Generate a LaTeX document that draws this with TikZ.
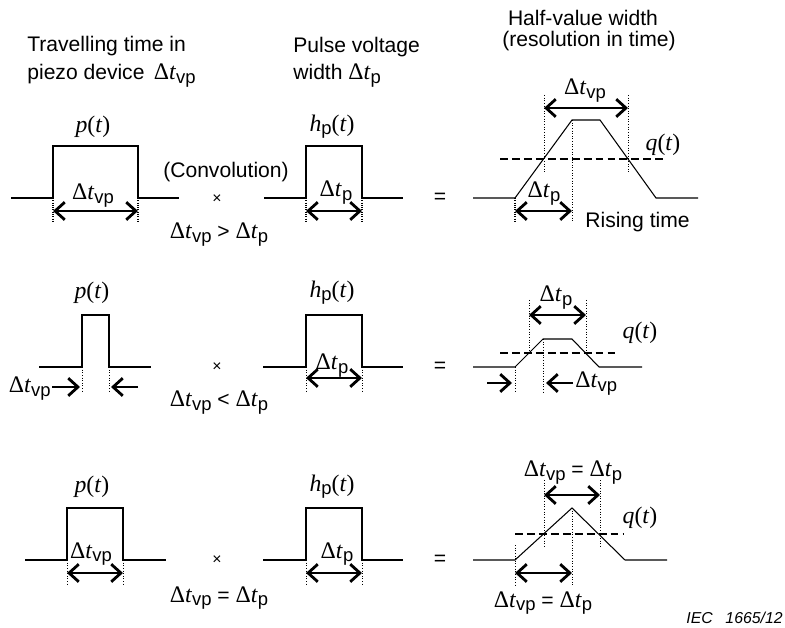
\documentclass[tikz,border=0pt]{standalone}
\usepackage{fontspec}
\setmainfont{Liberation Sans}
\newfontfamily\serf{Liberation Serif}
\usetikzlibrary{arrows.meta}

% text sizes
\newcommand\sz{\fontsize{12}{14}\selectfont}
\newcommand\sub[1]{\raisebox{-0.3ex}{\fontsize{10.5}{12}\selectfont #1}}
\newcommand\dt[1]{{\serf\fontsize{13.5}{16}\selectfont Δ\textit{t}}\sub{#1}}
\newcommand\fn[2]{{\serf\fontsize{13.5}{16}\selectfont\textit{#1}}#2{\serf\fontsize{13.5}{16}\selectfont(\textit{t})}}

\begin{document}
\begin{tikzpicture}[x=0.02cm, y=-0.02cm,
    wave/.style={line width=0.6pt},
    guide/.style={line width=0.5pt, dash pattern=on 0.5pt off 1pt},
    guidebold/.style={line width=1.2pt, dash pattern=on 0.6pt off 0.7pt},
    dimarrow/.style={line width=1.4pt, {Straight Barb[length=5.5pt,width=10pt,line width=1.6pt]}-{Straight Barb[length=5.5pt,width=10pt,line width=1.6pt]}},
    dimto/.style={line width=1.4pt, -{Straight Barb[length=5.5pt,width=10pt,line width=1.6pt]}},
    halfline/.style={line width=1.2pt, dash pattern=on 4.5pt off 2.3pt},
    txt/.style={font=\sz, inner sep=0pt}]

    % Fix the page size
    \useasboundingbox (0,0) rectangle (785,628);

    % 1. Headings
    \node[txt, anchor=base west] (headA1) at (27,52) {Travelling time in};
    \node[txt, anchor=base west] (headA2) at (27,80) {piezo device\, \dt{vp}};
    \node[txt, anchor=base west] (headB1) at (293,53) {Pulse voltage};
    \node[txt, anchor=base west] (headB2) at (293,80) {width \dt{p}};
    \node[txt, anchor=base] (headC1) at (583,26) {Half-value width};
    \node[txt, anchor=base] (headC2) at (589,47) {(resolution in time)};

    % 2. Row 1: dt_vp > dt_p
    \coordinate (A1) at (53,211);   % arrow ends
    \coordinate (B1) at (138,211);
    \coordinate (C1) at (306,211);
    \coordinate (D1) at (362,211);
    \coordinate (E1) at (544,108);
    \coordinate (F1) at (628,108);
    \coordinate (G1) at (515,211);
    \coordinate (H1) at (572,211);

    \draw[wave] (11,198) -- (53,198) -- (53,146) -- (138,146) -- (138,198) -- (179,198);
    \draw[guidebold] (53,198) -- (53,223);
    \draw[guidebold] (138,198) -- (138,223);
    \draw[dimarrow] (A1) -- (B1);
    \node[txt] (p1) at (93,127) {\fn{p}{}};
    \node[txt, anchor=base] (w1a) at (93,200) {\dt{vp}};

    \node[txt] (conv) at (226,172) {(Convolution)};
    \node[txt, font=\fontsize{9}{10}\selectfont] (x1) at (217,199) {×};
    \node[txt, anchor=base] (cmp1) at (219,239) {\dt{vp} > \dt{p}};

    \draw[wave] (264,198) -- (306,198) -- (306,146) -- (362,146) -- (362,198) -- (403,198);
    \draw[guidebold] (306,198) -- (306,223);
    \draw[guidebold] (362,198) -- (362,223);
    \draw[dimarrow] (C1) -- (D1);
    \node[txt] (h1) at (332,127) {\fn{h}{\sub{p}}};
    \node[txt, anchor=base] (w1b) at (336,197) {\dt{p}};

    \node[txt] (eq1) at (440,198) {=};

    \draw[wave] (473,198) -- (515,198) -- (572,120) -- (600,120) -- (656,198) -- (698,198);
    \draw[halfline] (500,159) -- (667,159);
    \draw[guide] (544,95) -- (544,173);
    \draw[guide] (628,95) -- (628,173);
    \draw[guide] (572,120) -- (572,222);
    \draw[guidebold] (515,198) -- (515,222);
    \draw[dimarrow] (E1) -- (F1);
    \draw[dimarrow] (G1) -- (H1);
    \node[txt, anchor=base] (w1c) at (585,95) {\dt{vp}};
    \node[txt, anchor=base] (w1d) at (544,198) {\dt{p}};
    \node[txt] (q1) at (663,145) {\fn{q}{}};
    \node[txt, anchor=base west] (rise) at (585,228) {Rising time};

    % 3. Row 2: dt_vp < dt_p
    \coordinate (A2) at (52,387);
    \coordinate (B2) at (80,387);
    \coordinate (C2) at (138,387);
    \coordinate (D2) at (111,387);
    \coordinate (E2) at (306,378);
    \coordinate (F2) at (362,378);
    \coordinate (G2) at (529,315);
    \coordinate (H2) at (586,315);
    \coordinate (I2) at (487,383);
    \coordinate (J2) at (512,383);
    \coordinate (K2) at (573,383);
    \coordinate (L2) at (546,383);

    \draw[wave] (39,367) -- (82,367) -- (82,315) -- (109,315) -- (109,367) -- (151,367);
    \draw[guide] (82,367) -- (82,392);
    \draw[guide] (109,367) -- (109,392);
    \draw[dimto] (A2) -- (B2);
    \draw[dimto] (C2) -- (D2);
    \node[txt] (p2) at (92,293) {\fn{p}{}};
    \node[txt, anchor=base east] (w2a) at (51,393) {\dt{vp}};

    \node[txt, font=\fontsize{9}{10}\selectfont] (x2) at (217,367) {×};
    \node[txt, anchor=base] (cmp2) at (219,407) {\dt{vp} < \dt{p}};

    \draw[wave] (263,367) -- (306,367) -- (306,315) -- (362,315) -- (362,367) -- (403,367);
    \draw[guide] (306,367) -- (306,392);
    \draw[guide] (362,367) -- (362,392);
    \draw[dimarrow] (E2) -- (F2);
    \node[txt] (h2) at (332,293) {\fn{h}{\sub{p}}};
    \node[txt, anchor=base] (w2b) at (332,370) {\dt{p}};

    \node[txt] (eq2) at (440,367) {=};

    \draw[wave] (473,367) -- (515,367) -- (543,339) -- (572,339) -- (599,367) -- (642,367);
    \draw[halfline] (500,353) -- (615,353);
    \draw[guide] (529,300) -- (529,353);
    \draw[guide] (586,300) -- (586,353);
    \draw[guide] (515,367) -- (515,392);
    \draw[guide] (543,339) -- (543,392);
    \draw[dimarrow] (G2) -- (H2);
    \draw[dimto] (I2) -- (J2);
    \draw[dimto] (K2) -- (L2);
    \node[txt, anchor=base] (w2c) at (556,302) {\dt{p}};
    \node[txt, anchor=base west] (w2d) at (575,388) {\dt{vp}};
    \node[txt] (q2) at (640,333) {\fn{q}{}};

    % 4. Row 3: dt_vp = dt_p
    \coordinate (A3) at (67,573);
    \coordinate (B3) at (123,573);
    \coordinate (C3) at (306,573);
    \coordinate (D3) at (362,573);
    \coordinate (E3) at (544,495);
    \coordinate (F3) at (600,495);
    \coordinate (G3) at (515,573);
    \coordinate (H3) at (572,573);

    \draw[wave] (25,560) -- (67,560) -- (67,508) -- (123,508) -- (123,560) -- (166,560);
    \draw[guide] (67,560) -- (67,584);
    \draw[guide] (123,560) -- (123,584);
    \draw[dimarrow] (A3) -- (B3);
    \node[txt] (p3) at (92,487) {\fn{p}{}};
    \node[txt, anchor=base] (w3a) at (91,558) {\dt{vp}};

    \node[txt, font=\fontsize{9}{10}\selectfont] (x3) at (217,560) {×};
    \node[txt, anchor=base] (cmp3) at (219,602) {\dt{vp} = \dt{p}};

    \draw[wave] (263,560) -- (306,560) -- (306,508) -- (362,508) -- (362,560) -- (403,560);
    \draw[guide] (306,560) -- (306,584);
    \draw[guide] (362,560) -- (362,584);
    \draw[dimarrow] (C3) -- (D3);
    \node[txt] (h3) at (332,487) {\fn{h}{\sub{p}}};
    \node[txt, anchor=base] (w3b) at (337,558) {\dt{p}};

    \node[txt] (eq3) at (440,560) {=};

    \draw[wave] (473,560) -- (515,560) -- (572,508) -- (625,560) -- (667,560);
    \draw[halfline] (515,534) -- (623,534);
    \draw[guide] (544,480) -- (544,547);
    \draw[guide] (600,480) -- (600,547);
    \draw[guide] (572,508) -- (572,585);
    \draw[guide] (515,545) -- (515,585);
    \draw[dimarrow] (E3) -- (F3);
    \draw[dimarrow] (G3) -- (H3);
    \node[txt, anchor=base] (w3c) at (573,477) {\dt{vp} = \dt{p}};
    \node[txt, anchor=base] (w3d) at (543,607) {\dt{vp} = \dt{p}};
    \node[txt] (q3) at (640,518) {\fn{q}{}};

    % 5. Figure number
    \node[txt, anchor=base east, font=\fontsize{9}{11}\selectfont\itshape] (iec) at (783,623) {IEC\hspace{0.8em}1665/12};

\end{tikzpicture}
\end{document}
